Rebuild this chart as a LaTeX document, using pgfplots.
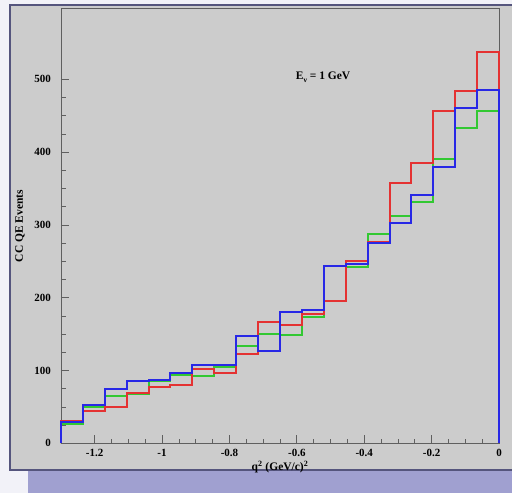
\documentclass[border=0pt]{standalone}
\usepackage{pgfplots}
\pgfplotsset{compat=1.18}
\usepackage{fontspec}
\setmainfont{Liberation Serif}
\definecolor{pagebg}{RGB}{242,242,248}
\definecolor{strip}{RGB}{160,160,208}
\definecolor{panel}{RGB}{204,204,204}
\definecolor{frame}{RGB}{85,85,125}
\definecolor{hred}{RGB}{228,50,50}
\definecolor{hgreen}{RGB}{50,200,50}
\definecolor{hblue}{RGB}{40,40,230}
\definecolor{axcol}{RGB}{95,95,95}
\begin{document}
\begin{tikzpicture}[x=1pt,y=1pt]
\path[use as bounding box] (0,0) rectangle (512,493);
\fill[pagebg] (0,0) rectangle (512,493);
\fill[strip] (28,0) rectangle (512,23);
\fill[panel] (10,23) rectangle (512,488);
\draw[frame, line width=1.8pt] (512,488) -- (10,488) -- (10,23) -- (512,23);
\begin{axis}[
  at={(61pt,49.7pt)}, anchor=south west,
  scale only axis, width=438pt, height=434.6pt,
  xmin=-1.3, xmax=0, ymin=0, ymax=597,
  axis background/.style={fill=panel},
  axis line style={draw=axcol, line width=0.8pt},
  xtick={-1.2,-1,-0.8,-0.6,-0.4,-0.2,0},
  xticklabels={-1.2,-1,-0.8,-0.6,-0.4,-0.2,0},
  ytick={0,100,200,300,400,500},
  yticklabels={0,100,200,300,400,500},
  minor x tick num=3, minor y tick num=3,
  tick align=inside,
  major tick length=8pt, minor tick length=4.5pt,
  every tick/.style={draw=axcol, line width=0.8pt},
  xtick pos=bottom, ytick pos=left,
  xticklabel style={font=\fontsize{11}{12}\selectfont\bfseries, inner sep=0pt, anchor=north, yshift=-6pt},
  yticklabel style={font=\fontsize{11}{12}\selectfont\bfseries, inner sep=0pt, anchor=east, xshift=-10pt},
  xlabel={q\textsuperscript{2} (GeV/c)\textsuperscript{2}},
  ylabel={CC QE Events},
  xlabel style={font=\fontsize{11.5}{13}\selectfont\bfseries, at={(axis description cs:0.5,0)}, anchor=center, yshift=-24pt},
  ylabel style={font=\fontsize{11.5}{13}\selectfont\bfseries, at={(axis description cs:0,0.5)}, anchor=center, rotate=0, yshift=41pt},
  clip=false,
]
\addplot[const plot, hgreen, line width=2pt] coordinates {
(-1.3,0) (-1.3,26) (-1.235,50) (-1.17,65) (-1.105,68) (-1.04,85) (-0.975,94) (-0.91,92) (-0.845,105) (-0.78,133) (-0.715,150) (-0.65,149) (-0.585,173) (-0.52,195) (-0.455,242) (-0.39,288) (-0.325,312) (-0.26,332) (-0.195,391) (-0.13,433) (-0.065,457) (0,457) (0,0)};
\addplot[const plot, hred, line width=2pt] coordinates {
(-1.3,0) (-1.3,30) (-1.235,45) (-1.17,50) (-1.105,69) (-1.04,77) (-0.975,80) (-0.91,102) (-0.845,96) (-0.78,123) (-0.715,166) (-0.65,163) (-0.585,177) (-0.52,196) (-0.455,251) (-0.39,276) (-0.325,357) (-0.26,385) (-0.195,456) (-0.13,484) (-0.065,538) (0,538) (0,0)};
\addplot[const plot, hblue, line width=2pt] coordinates {
(-1.3,0) (-1.3,29) (-1.235,52) (-1.17,74) (-1.105,85) (-1.04,87) (-0.975,96) (-0.91,107) (-0.845,107) (-0.78,147) (-0.715,127) (-0.65,181) (-0.585,183) (-0.52,243) (-0.455,246) (-0.39,275) (-0.325,302) (-0.26,341) (-0.195,380) (-0.13,460) (-0.065,485) (0,485) (0,0)};
\node[font=\fontsize{11.5}{13}\selectfont\bfseries] at (axis cs:-0.522,503) {E\raisebox{-0.45ex}{\fontsize{7.5}{8}\selectfont ν} = 1 GeV};
\end{axis}
\end{tikzpicture}
\end{document}
